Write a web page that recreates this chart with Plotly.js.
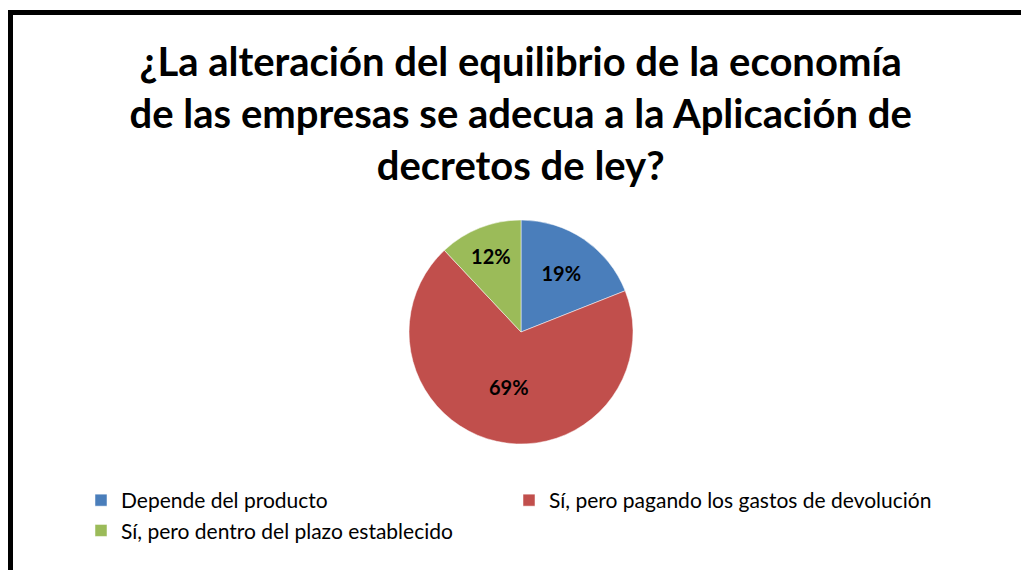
<!DOCTYPE html>
<html>
<head>
<meta charset="utf-8">
<script src="https://cdn.plot.ly/plotly-3.0.1.min.js"></script>
<style>
html, body { margin: 0; padding: 0; width: 1021px; height: 570px; overflow: hidden; background: #fff; }
#frame { position: absolute; left: 8px; top: 10px; width: 1100px; height: 700px; border: 5px solid #000; box-sizing: border-box; }
#chart { position: absolute; left: 0; top: 0; width: 1021px; height: 570px; }
</style>
</head>
<body>
<div id="frame"></div>
<div id="chart"></div>
<script>
const titleLines = [
  "¿La alteración del equilibrio de la economía",
  "de las empresas se adecua a la Aplicación de",
  "decretos de ley?"
];
const categories = [
  "Depende del producto",
  "Sí, pero pagando los gastos de devolución",
  "Sí, pero dentro del plazo establecido"
];
const values = [19, 69, 12];
const colors = ["#4a7ebb", "#c14f4c", "#9bbb59"];

const data = [{
  type: "pie",
  labels: categories,
  values: values,
  sort: false,
  direction: "clockwise",
  rotation: 0,
  marker: { colors: colors, line: { color: "#ffffff", width: 0.5 } },
  texttemplate: "%{percent:.0%}",
  textposition: "inside",
  insidetextorientation: "horizontal",
  textfont: { family: "Lato, sans-serif", size: 20, color: "#000000", weight: "bold" },
  hoverinfo: "label+percent",
  domain: { x: [0.0206, 1], y: [1 - 444/570, 1 - 220/570] }
}];

const layout = {
  width: 1021,
  height: 570,
  margin: { l: 0, r: 0, t: 0, b: 0 },
  paper_bgcolor: "rgba(0,0,0,0)",
  plot_bgcolor: "rgba(0,0,0,0)",
  title: {
    text: titleLines.join("<br>"),
    font: { family: "Lato, sans-serif", size: 40, color: "#000000", weight: "bold" },
    x: 0.51, xanchor: "center",
    y: 1 - 76/570, yanchor: "top", yref: "container"
  },
  showlegend: true,
  legend: {
    orientation: "h",
    x: 81/1021, xanchor: "left",
    y: 1 - 480/570, yanchor: "top",
    entrywidth: 383,
    entrywidthmode: "pixels",
    font: { family: "Lato, sans-serif", size: 21, color: "#000000" },
    traceorder: "normal"
  }
};

Plotly.newPlot("chart", data, layout, { displayModeBar: false, staticPlot: true }).then(function (gd) {
  gd.querySelectorAll(".legend .scrollbox, .legend").forEach(function (el) {
    el.removeAttribute("clip-path");
  });
});
</script>
</body>
</html>
